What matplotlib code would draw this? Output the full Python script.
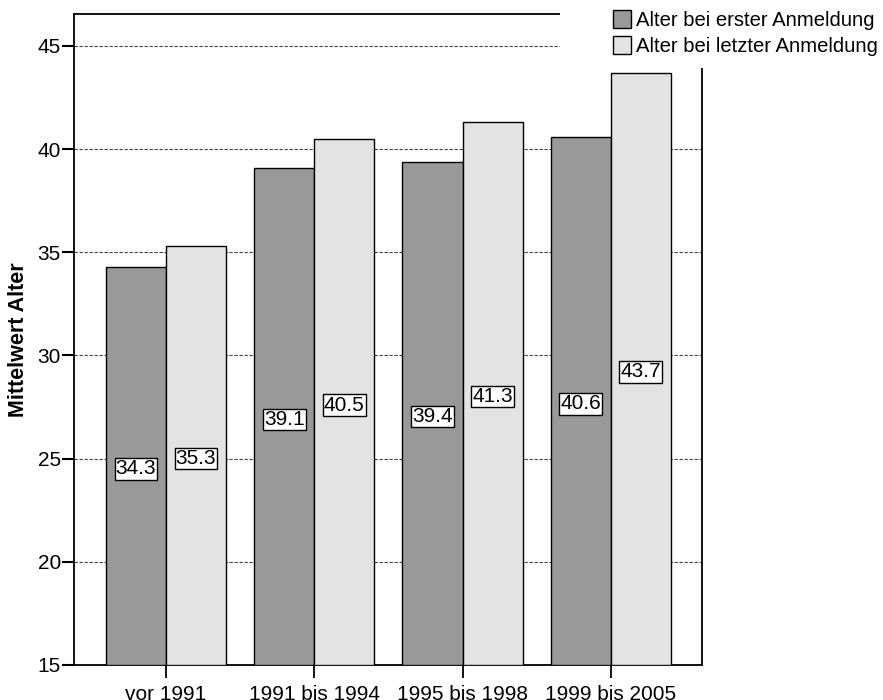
import matplotlib
matplotlib.use("Agg")
import matplotlib.pyplot as plt
from matplotlib.patches import Rectangle
import numpy as np

categories = ["vor 1991", "1991 bis 1994", "1995 bis 1998", "1999 bis 2005"]
series_names = ["Alter bei erster Anmeldung", "Alter bei letzter Anmeldung"]
erste = [34.3, 39.1, 39.4, 40.6]
letzte = [35.3, 40.5, 41.3, 43.7]
yticks = [15, 20, 25, 30, 35, 40, 45]

plt.rcParams['font.family'] = ['Liberation Sans', 'DejaVu Sans']

W, H = 883, 700
fig = plt.figure(figsize=(W/100, H/100), dpi=100)
ax = fig.add_axes([74/W, 1-665/H, (702-74)/W, (665-14)/H])

x = np.arange(len(categories))
bw = 0.405
base = 15
colors = ["#999999", "#e3e3e3"]
for vals, off, col, name in [(erste, -bw/2, colors[0], series_names[0]),
                             (letzte, bw/2, colors[1], series_names[1])]:
    v = np.array(vals)
    ax.bar(x + off, v - base, bw, bottom=base, color=col, edgecolor="black",
           linewidth=1.0, zorder=3, label=name)
    for xi, vi in zip(x + off, v):
        ax.text(xi, (vi + base)/2 - 0.15, f"{vi:.1f}", ha="center", va="center",
                fontsize=15, zorder=5,
                bbox=dict(boxstyle="square,pad=0.05", facecolor="white",
                          edgecolor="black", linewidth=1.0))

ax.set_xlim(-0.62, 3.615)
ax.set_ylim(15, 46.55)
ax.set_yticks(yticks)
ax.set_yticklabels([str(t) for t in yticks], fontsize=15)
for lab in ax.get_yticklabels():
    lab.set_va("center_baseline")
ax.set_xticks(x)
ax.set_xticklabels(categories, fontsize=15)
ax.tick_params(axis="y", direction="out", length=8.6, width=1.5, pad=0.8)
ax.tick_params(axis="x", direction="out", length=9.4, width=1.3, pad=5)
for t in yticks[1:]:
    ax.axhline(t, color="#444444", linestyle=(0, (3, 1.5)), linewidth=0.8, zorder=1)
for s in ax.spines.values():
    s.set_linewidth(1.3)
ax.set_ylabel("Mittelwert Alter", fontsize=15.5, fontweight="bold", labelpad=6)

fig.add_artist(Rectangle((560/W, 1-68/H), 1-560/W, 68/H, transform=fig.transFigure,
                         facecolor="white", edgecolor="none", zorder=2))
handles, labels = ax.get_legend_handles_labels()
leg = fig.legend(handles, labels, loc="upper left", bbox_to_anchor=(609/W, 1-6/H),
                 frameon=False, fontsize=14.6, handlelength=0.9, handleheight=1.0,
                 handletextpad=0.25, labelspacing=0.28, borderaxespad=0, borderpad=0.2)

fig.savefig("out.png", dpi=100)
